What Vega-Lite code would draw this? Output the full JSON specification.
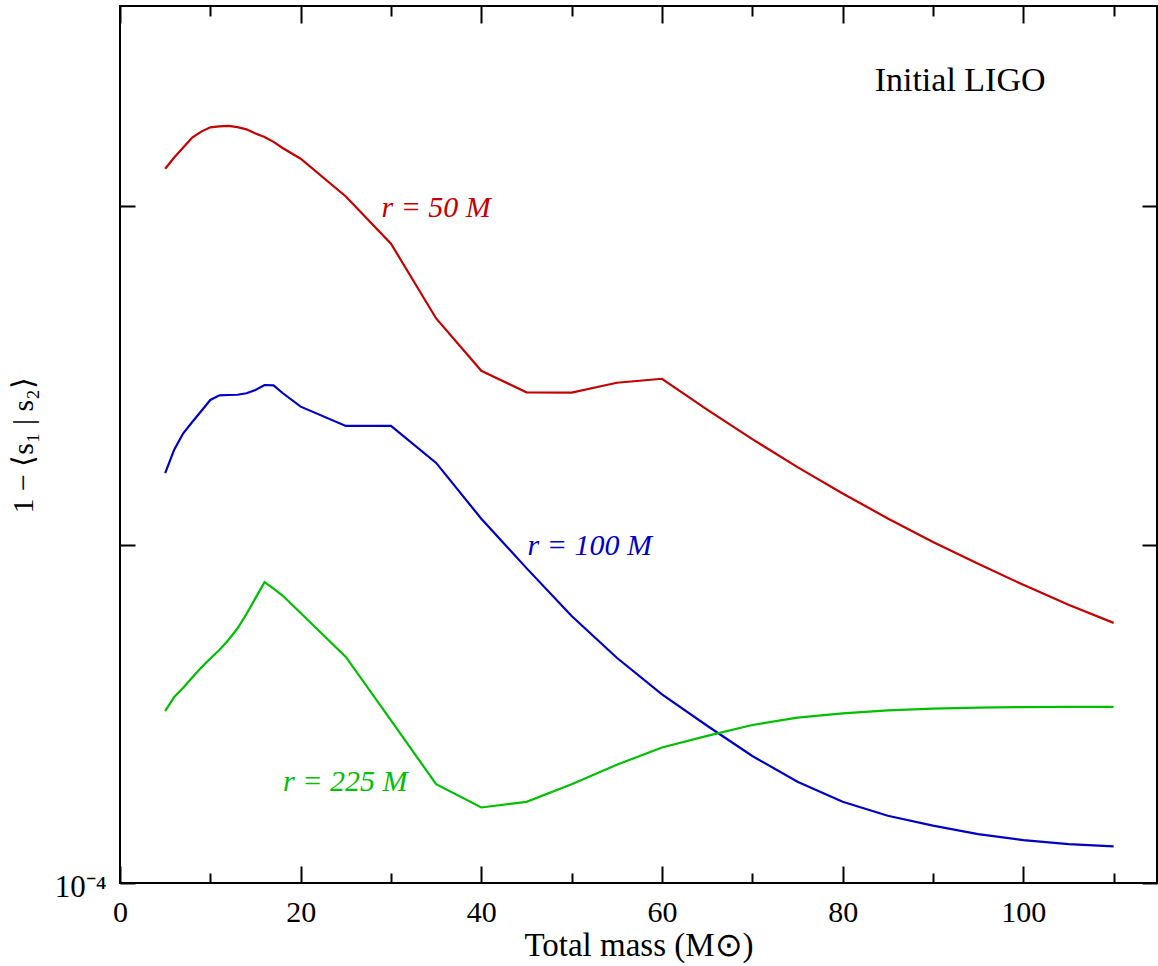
{
  "$schema": "https://vega.github.io/schema/vega-lite/v6.json",
  "width": 1037,
  "height": 877,
  "autosize": "none",
  "padding": {"left": 120, "top": 6, "right": 1, "bottom": 83},
  "background": "white",
  "config": {
    "view": {"stroke": "black", "strokeWidth": 2},
    "axis": {
      "domain": false,
      "grid": false,
      "tickColor": "black",
      "tickWidth": 2,
      "labelFont": "Liberation Serif",
      "titleFont": "Liberation Serif",
      "labelColor": "black",
      "titleColor": "black",
      "titleFontWeight": "normal",
      "labelFlush": false
    },
    "text": {"font": "Liberation Serif"}
  },
  "datasets": {
    "curves": [
      {"M": 5, "v": 0.01292, "r": "50"}, {"M": 6, "v": 0.01395, "r": "50"}, {"M": 7, "v": 0.01493, "r": "50"}, {"M": 8, "v": 0.01598, "r": "50"}, {"M": 9, "v": 0.01664, "r": "50"}, {"M": 10, "v": 0.01713, "r": "50"}, {"M": 11, "v": 0.01724, "r": "50"}, {"M": 12, "v": 0.0173, "r": "50"}, {"M": 13, "v": 0.01716, "r": "50"}, {"M": 14, "v": 0.0169, "r": "50"}, {"M": 15, "v": 0.01642, "r": "50"}, {"M": 16, "v": 0.01603, "r": "50"}, {"M": 17, "v": 0.01552, "r": "50"}, {"M": 18, "v": 0.01488, "r": "50"}, {"M": 20, "v": 0.01383, "r": "50"}, {"M": 25, "v": 0.0107, "r": "50"}, {"M": 30, "v": 0.00776, "r": "50"}, {"M": 35, "v": 0.004664, "r": "50"}, {"M": 40, "v": 0.003267, "r": "50"}, {"M": 45, "v": 0.002821, "r": "50"}, {"M": 50, "v": 0.002814, "r": "50"}, {"M": 55, "v": 0.003011, "r": "50"}, {"M": 60, "v": 0.003094, "r": "50"}, {"M": 65, "v": 0.002507, "r": "50"}, {"M": 70, "v": 0.002051, "r": "50"}, {"M": 75, "v": 0.001696, "r": "50"}, {"M": 80, "v": 0.001417, "r": "50"}, {"M": 85, "v": 0.001196, "r": "50"}, {"M": 90, "v": 0.001019, "r": "50"}, {"M": 95, "v": 0.0008778, "r": "50"}, {"M": 100, "v": 0.000761, "r": "50"}, {"M": 105, "v": 0.0006644, "r": "50"}, {"M": 110, "v": 0.0005874, "r": "50"},
      {"M": 5, "v": 0.001628, "r": "100"}, {"M": 6, "v": 0.00191, "r": "100"}, {"M": 7, "v": 0.002135, "r": "100"}, {"M": 8, "v": 0.002306, "r": "100"}, {"M": 9, "v": 0.002485, "r": "100"}, {"M": 10, "v": 0.002678, "r": "100"}, {"M": 11, "v": 0.002764, "r": "100"}, {"M": 12, "v": 0.00277, "r": "100"}, {"M": 13, "v": 0.002775, "r": "100"}, {"M": 14, "v": 0.002804, "r": "100"}, {"M": 15, "v": 0.002865, "r": "100"}, {"M": 16, "v": 0.002965, "r": "100"}, {"M": 17, "v": 0.002958, "r": "100"}, {"M": 18, "v": 0.002808, "r": "100"}, {"M": 20, "v": 0.002559, "r": "100"}, {"M": 25, "v": 0.002244, "r": "100"}, {"M": 30, "v": 0.002244, "r": "100"}, {"M": 35, "v": 0.001745, "r": "100"}, {"M": 40, "v": 0.001193, "r": "100"}, {"M": 45, "v": 0.0008526, "r": "100"}, {"M": 50, "v": 0.0006154, "r": "100"}, {"M": 55, "v": 0.0004632, "r": "100"}, {"M": 60, "v": 0.000361, "r": "100"}, {"M": 65, "v": 0.0002916, "r": "100"}, {"M": 70, "v": 0.0002374, "r": "100"}, {"M": 75, "v": 0.0001992, "r": "100"}, {"M": 80, "v": 0.0001739, "r": "100"}, {"M": 85, "v": 0.000158, "r": "100"}, {"M": 90, "v": 0.0001478, "r": "100"}, {"M": 95, "v": 0.0001395, "r": "100"}, {"M": 100, "v": 0.0001339, "r": "100"}, {"M": 105, "v": 0.0001303, "r": "100"}, {"M": 110, "v": 0.0001283, "r": "100"},
      {"M": 5, "v": 0.0003223, "r": "225"}, {"M": 6, "v": 0.0003549, "r": "225"}, {"M": 7, "v": 0.0003778, "r": "225"}, {"M": 8, "v": 0.0004052, "r": "225"}, {"M": 9, "v": 0.0004337, "r": "225"}, {"M": 10, "v": 0.000461, "r": "225"}, {"M": 11, "v": 0.0004884, "r": "225"}, {"M": 12, "v": 0.0005228, "r": "225"}, {"M": 13, "v": 0.0005652, "r": "225"}, {"M": 14, "v": 0.0006238, "r": "225"}, {"M": 15, "v": 0.0006953, "r": "225"}, {"M": 16, "v": 0.0007752, "r": "225"}, {"M": 17, "v": 0.0007416, "r": "225"}, {"M": 18, "v": 0.0007073, "r": "225"}, {"M": 20, "v": 0.000628, "r": "225"}, {"M": 25, "v": 0.0004657, "r": "225"}, {"M": 30, "v": 0.0003025, "r": "225"}, {"M": 35, "v": 0.0001959, "r": "225"}, {"M": 40, "v": 0.0001672, "r": "225"}, {"M": 45, "v": 0.0001737, "r": "225"}, {"M": 50, "v": 0.0001959, "r": "225"}, {"M": 55, "v": 0.0002237, "r": "225"}, {"M": 60, "v": 0.0002514, "r": "225"}, {"M": 65, "v": 0.0002723, "r": "225"}, {"M": 70, "v": 0.0002931, "r": "225"}, {"M": 75, "v": 0.0003082, "r": "225"}, {"M": 80, "v": 0.0003173, "r": "225"}, {"M": 85, "v": 0.0003238, "r": "225"}, {"M": 90, "v": 0.0003275, "r": "225"}, {"M": 95, "v": 0.0003298, "r": "225"}, {"M": 100, "v": 0.0003312, "r": "225"}, {"M": 105, "v": 0.0003316, "r": "225"}, {"M": 110, "v": 0.0003316, "r": "225"}
    ],
    "labelsA": [
      {"text": "r = 50 M", "M": 35.0, "v": 0.009286, "r": "50"},
      {"text": "r = 100 M", "M": 52.0, "v": 0.0009343, "r": "100"}
    ],
    "labelsB": [
      {"text": "r = 225 M", "M": 24.94, "v": 0.0001872, "r": "225"}
    ],
    "detector": [
      {"text": "Initial LIGO", "M": 93.0, "v": 0.02199}
    ]
  },
  "layer": [
    {
      "data": {"name": "curves"},
      "mark": {"type": "line", "strokeWidth": 2.2, "interpolate": "linear"},
      "encoding": {
        "x": {
          "field": "M", "type": "quantitative",
          "scale": {"domain": [0, 114.8], "nice": false, "zero": false},
          "axis": {
            "orient": "bottom", "values": [0, 20, 40, 60, 80, 100], "format": "d",
            "tickSize": -17, "labelPadding": 55, "labelBaseline": "alphabetic", "labelFontSize": 30,
            "title": "Total mass (M⊙)", "titleFontSize": 33, "titleY": 72, "titleBaseline": "alphabetic"
          }
        },
        "y": {
          "field": "v", "type": "quantitative",
          "scale": {"type": "log", "domain": [0.0001, 0.03912], "nice": false},
          "axis": {
            "orient": "left", "values": [0.0001, 0.001, 0.01],
            "labelExpr": "datum.value < 0.0005 ? '10⁻⁴' : ''",
            "tickSize": -15, "labelPadding": 29, "labelBaseline": "alphabetic", "labelOffset": 13, "labelFontSize": 31,
            "title": "1 − ⟨s₁ | s₂⟩", "titleFontSize": 30, "titleX": -88, "titleY": 439, "titleBaseline": "alphabetic"
          }
        },
        "color": {
          "field": "r", "type": "nominal",
          "scale": {"domain": ["50", "100", "225"], "range": ["#c40000", "#0000c4", "#00bf00"]},
          "legend": null
        }
      }
    },
    {
      "data": {"name": "labelsA"},
      "mark": {"type": "text", "fontSize": 30, "fontStyle": "italic", "align": "center", "baseline": "alphabetic"},
      "encoding": {
        "x": {"field": "M", "type": "quantitative",
          "axis": {"orient": "top", "values": [0, 20, 40, 60, 80, 100], "tickSize": -17, "labels": false, "title": null}},
        "y": {"field": "v", "type": "quantitative",
          "axis": {"orient": "right", "values": [0.0001, 0.001, 0.01], "tickSize": -15, "labels": false, "title": null}},
        "color": {"field": "r", "type": "nominal", "legend": null},
        "text": {"field": "text", "type": "nominal"}
      }
    },
    {
      "data": {"name": "labelsB"},
      "mark": {"type": "text", "fontSize": 30, "fontStyle": "italic", "align": "center", "baseline": "alphabetic"},
      "encoding": {
        "x": {"field": "M", "type": "quantitative",
          "axis": {"orient": "top", "values": [10, 30, 50, 70, 90, 110], "tickSize": -10, "labels": false, "title": null}},
        "y": {"field": "v", "type": "quantitative", "axis": null},
        "color": {"field": "r", "type": "nominal", "legend": null},
        "text": {"field": "text", "type": "nominal"}
      }
    },
    {
      "data": {"name": "detector"},
      "mark": {"type": "text", "fontSize": 34, "align": "center", "baseline": "alphabetic", "color": "black"},
      "encoding": {
        "x": {"field": "M", "type": "quantitative",
          "axis": {"orient": "bottom", "values": [10, 30, 50, 70, 90, 110], "tickSize": -10, "labels": false, "title": null}},
        "y": {"field": "v", "type": "quantitative", "axis": null},
        "text": {"field": "text", "type": "nominal"}
      }
    }
  ],
  "resolve": {"axis": {"x": "independent", "y": "independent"}}
}
